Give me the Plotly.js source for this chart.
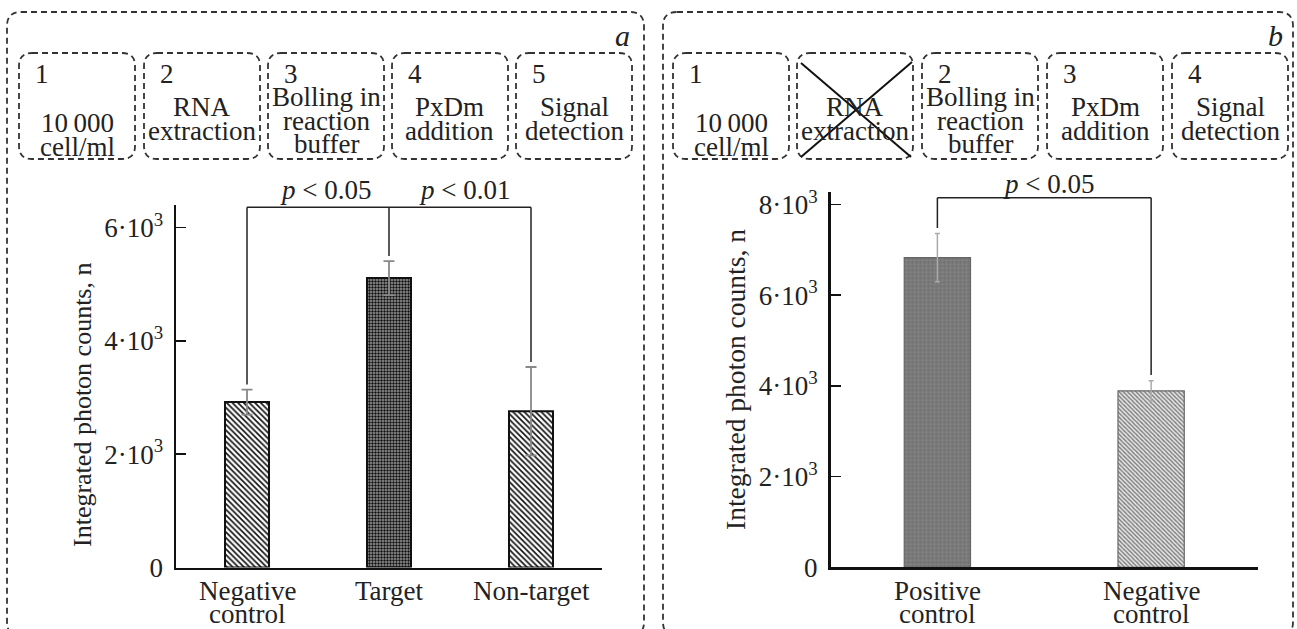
<!DOCTYPE html>
<html>
<head>
<meta charset="utf-8">
<script src="https://cdn.plot.ly/plotly-3.0.1.min.js"></script>
<style>html,body{margin:0;padding:0;background:#fff;}#chart{width:1297px;height:629px;}</style>
</head>
<body>
<div id="chart"></div>
<script>
// ---------------- data ----------------
const catsA = ['Negative control', 'Target', 'Non-target'];
const meansA = [2920, 5110, 2760];
const errsA = [220, 300, 780];
const labelLinesA = [['Negative', 'control'], ['Target'], ['Non-target']];

const catsB = ['Positive control', 'Negative control'];
const meansB = [6830, 3890];
const errsB = [530, 225];
const labelLinesB = [['Positive', 'control'], ['Negative', 'control']];

const tickValsA = [0, 2000, 4000, 6000];
const tickTextA = ['0', '2·10<sup>3</sup>', '4·10<sup>3</sup>', '6·10<sup>3</sup>'];
const tickValsB = [0, 2000, 4000, 6000, 8000];
const tickTextB = ['0', '2·10<sup>3</sup>', '4·10<sup>3</sup>', '6·10<sup>3</sup>', '8·10<sup>3</sup>'];

const yTitle = 'Integrated photon counts, n';

const stepNumsA = ['1', '2', '3', '4', '5'];
const stepTextA = [['10\u2009000', 'cell/ml'], ['RNA', 'extraction'], ['Bolling in', 'reaction', 'buffer'], ['PxDm', 'addition'], ['Signal', 'detection']];
const stepNumsB = ['1', '', '2', '3', '4'];
const stepTextB = [['10\u2009000', 'cell/ml'], ['RNA', 'extraction'], ['Bolling in', 'reaction', 'buffer'], ['PxDm', 'addition'], ['Signal', 'detection']];
const crossedB = [false, true, false, false, false];

// significance: [from index, to index, label]
const sigA = [[0, 1, '<i>p</i> &lt; 0.05'], [1, 2, '<i>p</i> &lt; 0.01']];
const sigB = [[0, 1, '<i>p</i> &lt; 0.05']];

// ---------------- layout helpers ----------------
const W = 1297, H = 629;
const FONT = '"Liberation Serif", "Times New Roman", serif';
const TXT = '#222';
const px = v => v / W;
const py = v => 1 - v / H;

function rr(x0, y0, x1, y1, r) {
  const X = v => px(v).toFixed(5), Y = v => py(v).toFixed(5);
  return `M ${X(x0 + r)},${Y(y0)} L ${X(x1 - r)},${Y(y0)} Q ${X(x1)},${Y(y0)} ${X(x1)},${Y(y0 + r)} ` +
    `L ${X(x1)},${Y(y1 - r)} Q ${X(x1)},${Y(y1)} ${X(x1 - r)},${Y(y1)} L ${X(x0 + r)},${Y(y1)} ` +
    `Q ${X(x0)},${Y(y1)} ${X(x0)},${Y(y1 - r)} L ${X(x0)},${Y(y0 + r)} Q ${X(x0)},${Y(y0)} ${X(x0 + r)},${Y(y0)} Z`;
}

const shapes = [];
const annotations = [];
const dashLine = {color: '#333', width: 1.8, dash: '6px,4px'};

// panel frames
shapes.push({type: 'path', xref: 'paper', yref: 'paper', path: rr(7, 12, 644, 636, 14), line: dashLine});
shapes.push({type: 'path', xref: 'paper', yref: 'paper', path: rr(663, 12, 1293, 636, 14), line: dashLine});

// panel letters
annotations.push({xref: 'paper', yref: 'paper', x: px(622), y: py(35), text: '<i>a</i>', showarrow: false,
  font: {family: FONT, size: 30, color: TXT}, xanchor: 'center', yanchor: 'middle'});
annotations.push({xref: 'paper', yref: 'paper', x: px(1275), y: py(35), text: '<i>b</i>', showarrow: false,
  font: {family: FONT, size: 30, color: TXT}, xanchor: 'center', yanchor: 'middle'});

// step boxes
const boxW = 116, boxTop = 53, boxBot = 159, lineGap = 23.5;
const boxX0A = [19, 144, 268, 392, 516];
const boxX0B = [673, 797, 922, 1047, 1172];
const startY = [123, 107, 97, 107, 107];
function addSteps(x0s, nums, texts, crossed) {
  x0s.forEach((x0, i) => {
    shapes.push({type: 'path', xref: 'paper', yref: 'paper', path: rr(x0, boxTop, x0 + boxW, boxBot, 13), line: dashLine});
    if (nums[i]) {
      annotations.push({xref: 'paper', yref: 'paper', x: px(x0 + 14), y: py(74), text: nums[i], showarrow: false,
        font: {family: FONT, size: 27, color: TXT}, xanchor: 'left', yanchor: 'middle'});
    }
    texts[i].forEach((t, k) => {
      annotations.push({xref: 'paper', yref: 'paper', x: px(x0 + boxW / 2), y: py(startY[i] + k * lineGap), text: t,
        showarrow: false, font: {family: FONT, size: 27, color: TXT}, xanchor: 'center', yanchor: 'middle'});
    });
    if (crossed && crossed[i]) {
      shapes.push({type: 'line', xref: 'paper', yref: 'paper', x0: px(x0 + 4), y0: py(63), x1: px(x0 + boxW - 2), y1: py(157), line: {color: '#111', width: 2}});
      shapes.push({type: 'line', xref: 'paper', yref: 'paper', x0: px(x0 + boxW - 1), y0: py(62), x1: px(x0 + 4), y1: py(157), line: {color: '#111', width: 2}});
    }
  });
}
addSteps(boxX0A, stepNumsA, stepTextA, null);
addSteps(boxX0B, stepNumsB, stepTextB, crossedB);

// axis titles
annotations.push({xref: 'paper', yref: 'paper', x: px(82), y: py(405), text: yTitle, textangle: -90, showarrow: false,
  font: {family: FONT, size: 26, color: TXT}, xanchor: 'center', yanchor: 'middle'});
annotations.push({xref: 'paper', yref: 'paper', x: px(735), y: py(380), text: yTitle, textangle: -90, showarrow: false,
  font: {family: FONT, size: 27.5, color: TXT}, xanchor: 'center', yanchor: 'middle'});

// category labels
function addCatLabels(xref, lines) {
  lines.forEach((ls, i) => {
    ls.forEach((t, k) => {
      annotations.push({xref: xref, yref: 'paper', x: i, y: py(591 + k * 22.5), text: t, showarrow: false,
        font: {family: FONT, size: 27, color: TXT}, xanchor: 'center', yanchor: 'middle'});
    });
  });
}
addCatLabels('x', labelLinesA);
addCatLabels('x2', labelLinesB);

// significance brackets
function addSig(xref, yref, sig, means, errs, level, gap, labelY, shifts) {
  const done = {};
  sig.forEach(([a, b, label], j) => {
    shapes.push({type: 'line', xref: xref, yref: yref, x0: a, x1: b, y0: level, y1: level, line: {color: '#222', width: 1.5}});
    [a, b].forEach(idx => {
      if (done[idx]) return;
      done[idx] = true;
      shapes.push({type: 'line', xref: xref, yref: yref, x0: idx, x1: idx, y0: level, y1: means[idx] + errs[idx] + gap,
        line: {color: '#222', width: 1.5}});
    });
    annotations.push({xref: xref, yref: 'paper', x: (a + b) / 2 + shifts[j], y: py(labelY), text: label, showarrow: false,
      font: {family: FONT, size: 27, color: TXT}, xanchor: 'center', yanchor: 'middle'});
  });
}
addSig('x', 'y', sigA, meansA, errsA, 6360, 90, 190, [0.05, 0.03]);
addSig('x2', 'y2', sigB, meansB, errsB, 8150, 125, 184, [0.02]);

// ---------------- traces ----------------
// marker.color stays scalar so the per-bar pattern colours are used as given
const traceA = {
  type: 'bar', x: catsA, y: meansA, xaxis: 'x', yaxis: 'y', width: 0.31,
  marker: {
    color: '#ffffff',
    line: {color: '#111', width: 2},
    pattern: {shape: ['\\', '.', '\\'], size: [4, 3, 4], solidity: [0.42, 0.5, 0.42],
      fgcolor: ['#111', '#111', '#111'], bgcolor: ['#ffffff', '#9a9a9a', '#ffffff'], fillmode: 'replace'}
  },
  error_y: {type: 'data', array: errsA, visible: true, color: '#888', thickness: 1.8, width: 5.5},
  hoverinfo: 'skip', showlegend: false
};
const traceB = {
  type: 'bar', x: catsB, y: meansB, xaxis: 'x2', yaxis: 'y2', width: 0.31,
  marker: {
    color: '#808080',
    line: {color: '#666', width: 1.2},
    pattern: {shape: ['+', '\\'], size: [4, 3], solidity: [0.2, 0.45],
      fgcolor: ['#5a5a5a', '#7a7a7a'], bgcolor: ['#828282', '#e6e6e6'], fillmode: 'replace'}
  },
  error_y: {type: 'data', array: errsB, visible: true, color: '#aaa', thickness: 1.5, width: 2.5},
  hoverinfo: 'skip', showlegend: false
};

const axisX = {
  showline: true, linecolor: '#111', linewidth: 2.5, ticks: '', showticklabels: false,
  showgrid: false, zeroline: false, fixedrange: true
};
const axisY = {
  showline: true, linecolor: '#111', linewidth: 2.5, ticks: 'inside', ticklen: 10, tickwidth: 1.5, tickcolor: '#111',
  tickfont: {family: FONT, size: 27, color: TXT}, ticklabelstandoff: 5,
  showgrid: false, zeroline: false, fixedrange: true
};

const layout = {
  width: W, height: H, margin: {l: 0, r: 0, t: 0, b: 0}, paper_bgcolor: '#fff', plot_bgcolor: 'rgba(0,0,0,0)',
  showlegend: false, bargap: 0,
  xaxis: Object.assign({}, axisX, {domain: [px(176), px(602)], anchor: 'y', range: [-0.5, 2.5], type: 'category'}),
  yaxis: Object.assign({}, axisY, {domain: [py(567.5), py(205)], anchor: 'x', range: [0, 6400],
    tickvals: tickValsA, ticktext: tickTextA}),
  xaxis2: Object.assign({}, axisX, {domain: [px(830.5), px(1258)], anchor: 'y2', range: [-0.5, 1.5], type: 'category'}),
  yaxis2: Object.assign({}, axisY, {domain: [py(567.3), py(192.3)], anchor: 'x2', range: [0, 8270],
    tickvals: tickValsB, ticktext: tickTextB}),
  shapes: shapes,
  annotations: annotations
};

Plotly.newPlot('chart', [traceA, traceB], layout, {displayModeBar: false, staticPlot: true});
</script>
</body>
</html>
